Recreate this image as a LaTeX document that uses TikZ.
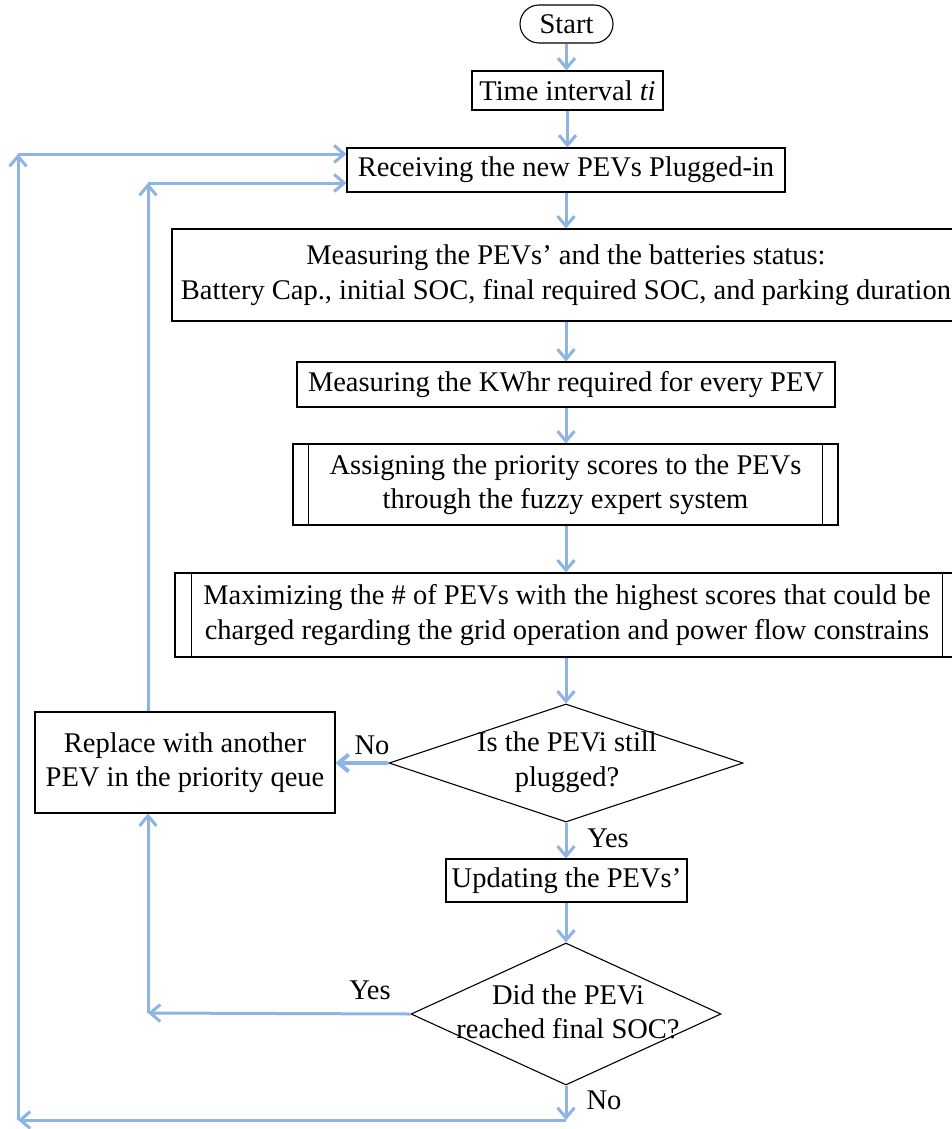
\documentclass[tikz,border=0pt]{standalone}
\usepackage{fontspec}
\setmainfont{Liberation Serif}
\usetikzlibrary{arrows.meta,shapes.geometric}
\definecolor{flow}{RGB}{141,180,226}
\begin{document}
\begin{tikzpicture}[x=1pt,y=-1pt,
  every node/.style={font=\fontsize{28.5}{34.5}\selectfont, align=center, inner sep=0pt},
  box/.style={draw=black, line width=1.1pt, rectangle},
  procbox/.style={box},
  decision/.style={draw=black, line width=1.1pt, diamond},
  flowline/.style={draw=flow, line width=3pt, -{Straight Barb[length=10pt,width=17pt]}},
  tag/.style={font=\fontsize{28.5}{34.5}\selectfont}
]
\useasboundingbox (0,0) rectangle (951,1129);

% process steps
\node[box, rounded corners=19pt, minimum width=93pt, minimum height=38pt] (start) at (566.5,24) {Start};
\node[box, minimum width=191pt, minimum height=39pt] (time) at (567.5,90.5) {Time interval \textit{ti}};
\node[box, minimum width=438pt, minimum height=44pt] (recv) at (566,170) {Receiving the new PEVs Plugged-in};
\node[box, minimum width=788pt, minimum height=92pt] (meas) at (566,275) {Measuring the PEVs’ and the batteries status:\\Battery Cap., initial SOC, final required SOC, and parking duration};
\node[box, minimum width=538pt, minimum height=45pt] (kwh) at (566,384.5) {Measuring the KWhr required for every PEV};
\node[procbox, minimum width=545pt, minimum height=81pt] (assign) at (565.5,484.5) {Assigning the priority scores to the PEVs\\through the fuzzy expert system};
\node[procbox, minimum width=784pt, minimum height=84pt] (maxim) at (567,615) {Maximizing the \# of PEVs with the highest scores that could be\\charged regarding the grid operation and power flow constrains};

% side bars of the predefined processes
\draw[line width=1.1pt] ([xshift=16pt]assign.north west) -- ([xshift=16pt]assign.south west)
                        ([xshift=-16pt]assign.north east) -- ([xshift=-16pt]assign.south east);
\draw[line width=1.1pt] ([xshift=17pt]maxim.north west) -- ([xshift=17pt]maxim.south west)
                        ([xshift=-17pt]maxim.north east) -- ([xshift=-17pt]maxim.south east);

% decisions
\node[decision, minimum width=354pt, minimum height=118pt] (dec1) at (566,763) {};
\node (dec1txt) at (567,762) {Is the PEVi still\\plugged?};
\node[box, minimum width=300pt, minimum height=101pt] (repl) at (185,762.5) {Replace with another\\PEV in the priority qeue};
\node[box, minimum width=241pt, minimum height=43pt] (upd) at (566.5,880.5) {Updating the PEVs’};
\node[decision, minimum width=310pt, minimum height=142pt] (dec2) at (566,1014) {};
\node (dec2txt) at (568,1012) {Did the PEVi\\reached final SOC?};

% branch labels
\node[tag] (no1) at (372,745) {No};
\node[tag] (yes1) at (608,838) {Yes};
\node[tag] (yes2) at (370,990) {Yes};
\node[tag] (no2) at (604,1100) {No};

% return-path corners
\coordinate (b1) at (566,1120);
\coordinate (b2) at (18,1120);
\coordinate (b3) at (18,154);
\coordinate (i1) at (148,183);
\coordinate (y1) at (148,1013);

% main column
\draw[flowline] (start.south) -- (start.south |- time.north);
\draw[flowline] (time.south) -- (time.south |- recv.north);
\draw[flowline] (recv.south) -- (recv.south |- meas.north);
\draw[flowline] (meas.south) -- (meas.south |- kwh.north);
\draw[flowline] (kwh.south) -- (kwh.south |- assign.north);
\draw[flowline] (kwh.south |- assign.south) -- (kwh.south |- maxim.north);
\draw[flowline] (kwh.south |- maxim.south) -- (dec1.north);
\draw[flowline] (dec1.south) -- (dec1.south |- upd.north);
\draw[flowline] (dec1.south |- upd.south) -- (dec2.north);

% "No" from the first decision
\draw[flowline, line width=4pt] (dec1.west) -- (dec1.west -| repl.east);

% inner loop back to receiving
\draw[flowline] (repl.north -| i1) -- (i1);
\draw[flowline] (i1) -- (i1 -| recv.west);

% "Yes" from the second decision
\draw[flowline] (dec2.west) -- (y1);
\draw[flowline] (y1) -- (y1 |- repl.south);

% "No" from the second decision, outer loop
\draw[flowline] (dec2.south) -- (b1);
\draw[flowline] (b1) -- (b2);
\draw[flowline] (b2) -- (b3);
\draw[flowline] (b3) -- (b3 -| recv.west);
\end{tikzpicture}
\end{document}
